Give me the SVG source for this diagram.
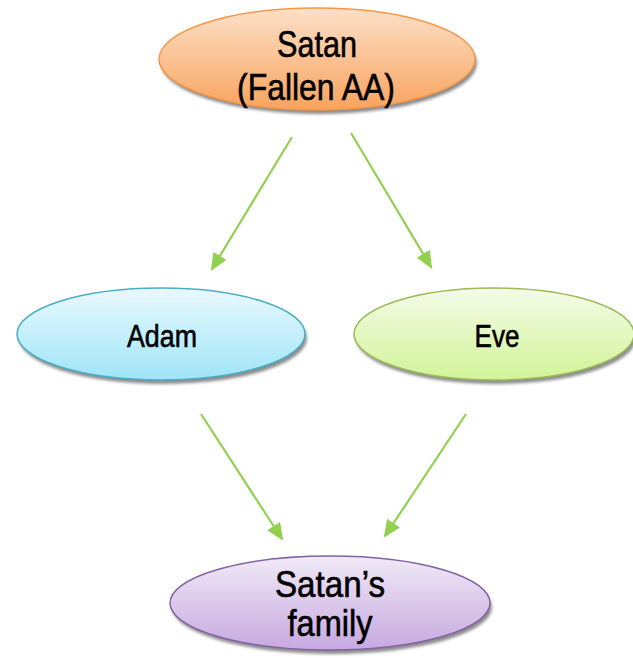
<svg xmlns="http://www.w3.org/2000/svg" width="633" height="658" viewBox="0 0 633 658">
<style>
text{font-family:"Liberation Sans",Arial,sans-serif;fill:#000;stroke:#000;stroke-width:0.6;text-anchor:middle}
.big{font-size:37px}
.mid{font-size:31px}
.conn line{stroke:#92D050;stroke-width:2.2;fill:none}
.shadow{fill:#8c8c8c;filter:url(#blur)}
</style>
<defs>
<filter id="blur" x="-10%" y="-20%" width="120%" height="140%"><feGaussianBlur stdDeviation="1.5"/></filter>
<linearGradient id="gO" x1="0" y1="0" x2="0" y2="1"><stop offset="0" stop-color="#FDE0C8"/><stop offset="1" stop-color="#F8A35E"/></linearGradient>
<linearGradient id="gB" x1="0" y1="0" x2="0" y2="1"><stop offset="0" stop-color="#EAF9FD"/><stop offset="1" stop-color="#9EE5F8"/></linearGradient>
<linearGradient id="gG" x1="0" y1="0" x2="0" y2="1"><stop offset="0" stop-color="#F4FBE8"/><stop offset="1" stop-color="#D2F498"/></linearGradient>
<linearGradient id="gP" x1="0" y1="0" x2="0" y2="1"><stop offset="0" stop-color="#F0EAF6"/><stop offset="1" stop-color="#C7A8E0"/></linearGradient>
<marker id="ah" markerWidth="8" markerHeight="7" refX="7" refY="3.5" orient="auto" markerUnits="strokeWidth"><path d="M0,0 L8,3.5 L0,7 Z" fill="#92D050"/></marker>
</defs>

<g id="conns" class="conn">
<line x1="292" y1="137" x2="212" y2="269" marker-end="url(#ah)"/>
<line x1="351" y1="133" x2="431" y2="267" marker-end="url(#ah)"/>
<line x1="201" y1="414" x2="282" y2="539" marker-end="url(#ah)"/>
<line x1="466" y1="414" x2="385" y2="536" marker-end="url(#ah)"/>
</g>

<g id="satan">
<ellipse class="shadow" cx="319" cy="63" rx="158" ry="51"/>
<ellipse cx="317" cy="59" rx="158" ry="51" fill="url(#gO)" stroke="#F79646" stroke-width="1.5"/>
<text class="big" x="317" y="57" textLength="80" lengthAdjust="spacingAndGlyphs">Satan</text>
<text class="big" x="316" y="100" textLength="158" lengthAdjust="spacingAndGlyphs">(Fallen AA)</text>
</g>

<g id="adam">
<ellipse class="shadow" cx="163" cy="338" rx="144" ry="46"/>
<ellipse cx="161" cy="334" rx="144" ry="46" fill="url(#gB)" stroke="#4BACC6" stroke-width="1.5"/>
<text class="mid" x="162" y="347" textLength="70" lengthAdjust="spacingAndGlyphs">Adam</text>
</g>

<g id="eve">
<ellipse class="shadow" cx="496" cy="338" rx="140" ry="46"/>
<ellipse cx="494" cy="334" rx="140" ry="46" fill="url(#gG)" stroke="#9BBB59" stroke-width="1.5"/>
<text class="mid" x="497" y="347" textLength="45" lengthAdjust="spacingAndGlyphs">Eve</text>
</g>

<g id="family">
<ellipse class="shadow" cx="332" cy="607" rx="160" ry="47"/>
<ellipse cx="330" cy="603" rx="160" ry="47" fill="url(#gP)" stroke="#8064A2" stroke-width="1.5"/>
<text class="big" x="330" y="597" textLength="110" lengthAdjust="spacingAndGlyphs">Satan’s</text>
<text class="big" x="330" y="636" textLength="85" lengthAdjust="spacingAndGlyphs">family</text>
</g>
</svg>
